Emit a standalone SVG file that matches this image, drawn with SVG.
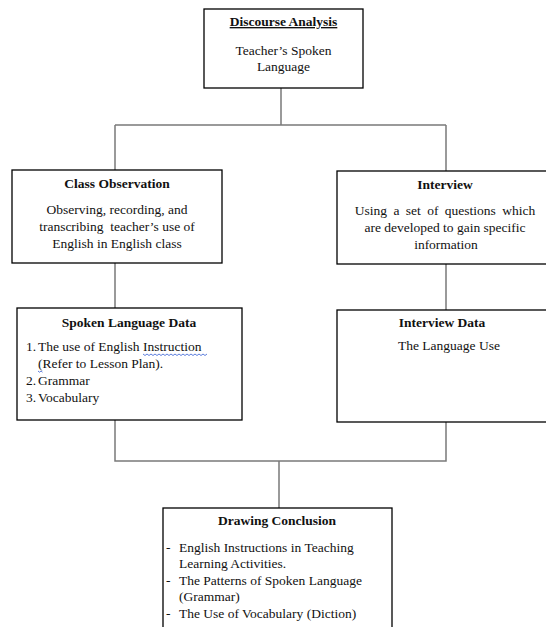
<svg xmlns="http://www.w3.org/2000/svg" width="546" height="627" viewBox="0 0 546 627">
<style>
  .box { fill: #fff; stroke: #000; stroke-width: 1.3; }
  .conn { fill: none; stroke: #7a7a7a; stroke-width: 1.5; }
  text { font-family: "Liberation Serif", "Times New Roman", serif; font-size: 13.5px; fill: #111; }
  .t { font-weight: bold; text-anchor: middle; }
  .c { text-anchor: middle; }
  .wavy { fill: none; stroke: #4a6fd8; stroke-width: 0.9; }
</style>
<rect width="546" height="627" fill="#fff"/>
<g id="connectors">
  <path class="conn" d="M281 88 V125 M115 125 H446 M115 125 V170 M446 125 V171"/>
  <path class="conn" d="M115 263 V308 M446 264 V310"/>
  <path class="conn" d="M115 420 V461 H446 V422 M279 461 V508"/>
</g>
<g id="discourse-analysis">
  <rect class="box" x="204" y="9" width="159" height="79"/>
  <text class="t" x="283.5" y="26" text-decoration="underline">Discourse Analysis</text>
  <text class="c" x="283.5" y="55">Teacher’s Spoken</text>
  <text class="c" x="283.5" y="71">Language</text>
</g>
<g id="class-observation">
  <rect class="box" x="12" y="170" width="210" height="93"/>
  <text class="t" x="117" y="188">Class Observation</text>
  <text class="c" x="117" y="214">Observing, recording, and</text>
  <text class="c" x="117" y="231" xml:space="preserve">transcribing  teacher’s use of</text>
  <text class="c" x="117" y="248">English in English class</text>
</g>
<g id="interview">
  <rect class="box" x="337" y="171" width="215" height="93"/>
  <text class="t" x="445" y="189">Interview</text>
  <text class="c" x="445" y="215" word-spacing="3">Using a set of questions which</text>
  <text class="c" x="445" y="232">are developed to gain specific</text>
  <text class="c" x="446" y="249">information</text>
</g>
<g id="spoken-language-data">
  <rect class="box" x="17" y="308" width="225" height="112"/>
  <text class="t" x="129" y="327">Spoken Language Data</text>
  <text x="26" y="351">1.</text>
  <text x="38" y="351">The use of English Instruction</text>
  <path class="wavy" d="M143 354 l2 1.5 l2 -1.5 l2 1.5 l2 -1.5 l2 1.5 l2 -1.5 l2 1.5 l2 -1.5 l2 1.5 l2 -1.5 l2 1.5 l2 -1.5 l2 1.5 l2 -1.5 l2 1.5 l2 -1.5 l2 1.5 l2 -1.5 l2 1.5 l2 -1.5 l2 1.5 l2 -1.5 l2 1.5 l2 -1.5 l2 1.5 l2 -1.5 l2 1.5 l2 -1.5 l2 1.5 l2 -1.5 l2 1.5 l2 -1.5"/>
  <text x="38" y="368">(Refer to Lesson Plan).</text>
  <path class="wavy" d="M38 371 l1.5 1.2 l1.5 -1.2 l1.5 1.2"/>
  <text x="26" y="385">2.</text>
  <text x="38" y="385">Grammar</text>
  <text x="26" y="402">3.</text>
  <text x="38" y="402">Vocabulary</text>
</g>
<g id="interview-data">
  <rect class="box" x="337" y="310" width="215" height="112"/>
  <text class="t" x="442" y="327">Interview Data</text>
  <text x="398" y="350">The Language Use</text>
</g>
<g id="drawing-conclusion">
  <rect class="box" x="163" y="508" width="229" height="130"/>
  <text class="t" x="277" y="525">Drawing Conclusion</text>
  <text x="166" y="552">-</text>
  <text x="179" y="552">English Instructions in Teaching</text>
  <text x="179" y="568">Learning Activities.</text>
  <text x="166" y="585">-</text>
  <text x="179" y="585">The Patterns of Spoken Language</text>
  <text x="179" y="601">(Grammar)</text>
  <text x="166" y="618">-</text>
  <text x="179" y="618">The Use of Vocabulary (Diction)</text>
</g>
</svg>
